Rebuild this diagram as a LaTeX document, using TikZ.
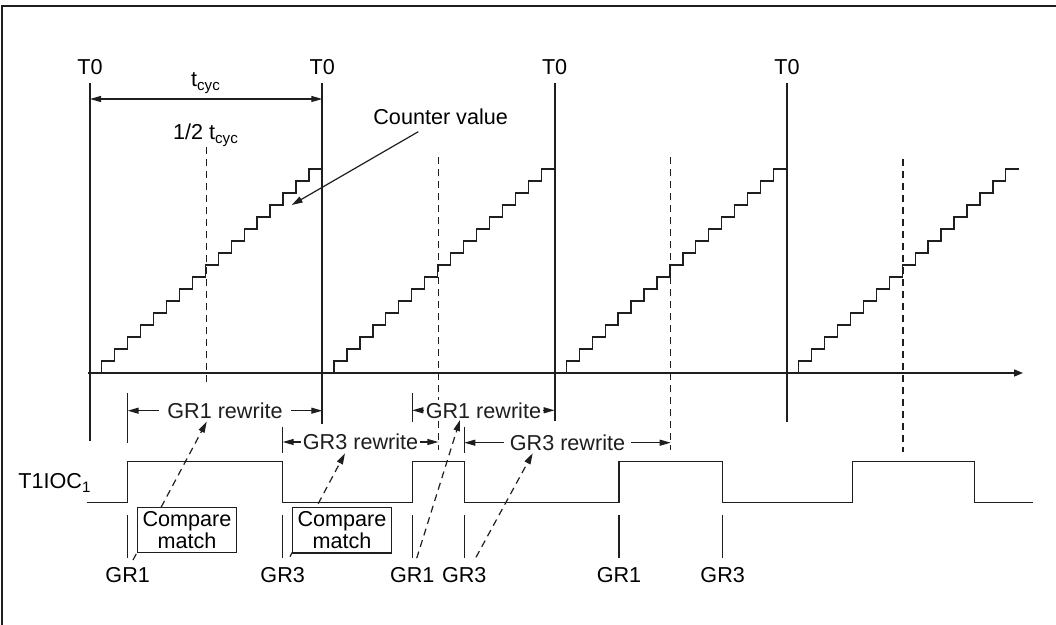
\documentclass[tikz,border=0pt]{standalone}
\usepackage{fontspec}
\setmainfont{Liberation Sans}
\definecolor{ink}{RGB}{30, 30, 30}
\usetikzlibrary{arrows.meta, positioning, calc}

\begin{document}
\begin{tikzpicture}[x=0.5pt, y=-0.5pt, every node/.style={font=\fontsize{10.8}{11.2}\selectfont, inner sep=0pt},
    wire/.style={ink, line width=0.75pt},
    stair/.style={ink, line width=0.65pt},
    guide/.style={ink, line width=0.7pt, dash pattern=on 3.5pt off 2.5pt},
    ptr/.style={-{Triangle[length=5.5pt, width=3.2pt]}},
    dimline/.style={ink, line width=0.6pt, {Triangle[length=5.5pt, width=3pt]}-{Triangle[length=5.5pt, width=3pt]}},
    rw/.style={fill=white, inner ysep=1pt},
    cmbox/.style={draw, ink, line width=0.65pt, fill=white, text=black, align=center, minimum width=49.7pt, minimum height=22.7pt}]
    \useasboundingbox (0,0) rectangle (1056,625);
    \draw[ink, line width=1pt] (2,625) -- (2,6) -- (1056,6);
    % counter
    \foreach \n/\x/\bot in {a/90/441, b/322.3/424, c/554.6/421, d/786.9/422} {
        \node[anchor=base] (t0\n) at (\x,75) {T0};
        \draw[wire, line width=0.9pt] (\x,83) -- (\x,\bot);
        \draw[stair] (\x+11.7,373) \foreach \k in {1,...,17} { -- ++(0,-12) -- ++(12.95,0) };
    }
    \draw[guide] (206.2,147) -- (206.2,385);
    \draw[guide] (438.4,157) -- (438.4,450);
    \draw[guide] (670.7,157) -- (670.7,450);
    \draw[guide] (903,159) -- (903,451.7);
    \draw[wire, -{Triangle[length=4.5pt, width=3.5pt]}] (88,373) -- (1023,373);
    \draw[dimline] (90,99) -- (322.3,99);
    \node[anchor=base] (tcyc) at (206,87) {t\textsubscript{cyc}};
    \node[anchor=base] (half) at (206,140) {1/2 t\textsubscript{cyc}};
    \node[anchor=base west] (cnt) at (373,125) {Counter value};
    \coordinate (cntfrom) at (418.3,131.7);
    \coordinate (cntto) at (291.7,205);
    \draw[ink, line width=0.6pt, ptr] (cntfrom) -- (cntto);
    % rewrite windows
    \draw[wire] (127.7,393) -- (127.7,443);
    \draw[wire] (282.7,426.7) -- (282.7,453);
    \draw[wire] (412.3,393) -- (412.3,421.7);
    \draw[wire] (464.3,426.7) -- (464.3,453);
    \draw[dimline] (127.7,410.7) -- node[rw, inner xsep=4pt] (rw1) {GR1 rewrite} (322.3,410.7);
    \draw[dimline] (282.7,442) -- node[rw, inner xsep=1pt] (rw2) {GR3 rewrite} (438.4,442);
    \draw[dimline] (412.3,410.3) -- node[rw, inner xsep=1pt] (rw3) {GR1 rewrite} (554.6,410.3);
    \draw[dimline] (464.3,442.7) -- node[rw, inner xsep=3pt] (rw4) {GR3 rewrite} (670.7,442.7);
    % output
    \node[anchor=base west] (out) at (18,489) {T1IOC\textsubscript{1}};
    \draw[wire] (86.7,502.7) -- (127.7,502.7) -- (127.7,461.7) -- (282.7,461.7) -- (282.7,502.7)
        -- (412.3,502.7) -- (412.3,461.7) -- (464.3,461.7) -- (464.3,502.7)
        -- (619,502.7) -- (619,461.7) -- (722.7,461.7) -- (722.7,502.7)
        -- (852.3,502.7) -- (852.3,461.7) -- (974.3,461.7) -- (974.3,502.7) -- (1033.3,502.7);
    \foreach \x/\g [count=\i] in {127.7/GR1, 282.7/GR3, 412.3/GR1, 464.3/GR3, 619/GR1, 722.7/GR3} {
        \draw[wire] (\x,515) -- (\x,558);
        \node[anchor=base] (gr\i) at (\x,583) {\g};
    }
    \draw[guide, line width=0.6pt, ptr] (133,560) -- (206.7,421.7);
    \draw[guide, line width=0.6pt, ptr] (290,556.7) -- (345,453.3);
    \draw[guide, line width=0.6pt, ptr] (416.7,558.3) -- (460,420);
    \draw[guide, line width=0.6pt, ptr] (476,557.3) -- (532.7,453.3);
    \node[cmbox] (cm1) at (187,530) {Compare\\match};
    \node[cmbox] (cm2) at (342,530.3) {Compare\\match};
\end{tikzpicture}
\end{document}
